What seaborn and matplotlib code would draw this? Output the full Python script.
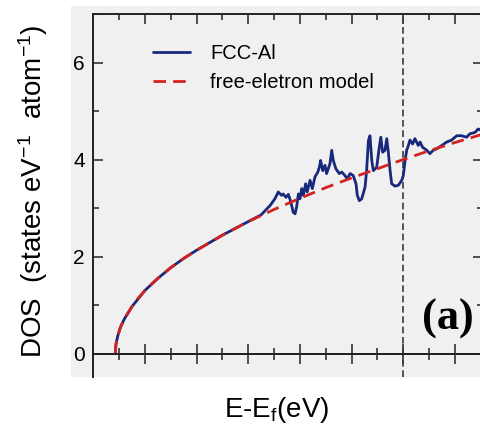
import numpy as np
import pandas as pd
import matplotlib
matplotlib.use("Agg")
import matplotlib.pyplot as plt
from matplotlib.patches import Rectangle
from matplotlib.ticker import MultipleLocator, NullFormatter
import seaborn as sns

# ---------------- data ----------------
# FCC-Al DOS (states eV^-1 atom^-1) vs E - Ef (eV)
al_energy = [-11.15, -11.12, -11.05, -10.95, -10.8, -10.5, -10.0, -9.5, -9.0, -8.5,
             -8.0, -7.0, -6.0, -5.5, -5.16, -4.97, -4.84, -4.71, -4.65, -4.54,
             -4.45, -4.39, -4.32, -4.26, -4.19, -4.13, -4.06, -4.00, -3.93, -3.87,
             -3.78, -3.72, -3.61, -3.52, -3.42, -3.31, -3.25, -3.20, -3.12, -3.03,
             -2.97, -2.84, -2.77, -2.71, -2.61, -2.48, -2.38, -2.26, -2.17, -2.06,
             -1.94, -1.83, -1.78, -1.70, -1.61, -1.48, -1.42, -1.35, -1.29, -1.22,
             -1.16, -1.03, -0.93, -0.87, -0.80, -0.71, -0.64, -0.58, -0.51, -0.45,
             -0.32, -0.19, -0.06, 0.00, 0.07, 0.13, 0.19, 0.26, 0.36, 0.45,
             0.58, 0.65, 0.75, 0.91, 1.03, 1.16, 1.29, 1.49, 1.68, 1.87,
             2.07, 2.26, 2.45, 2.58, 2.78, 2.90, 3.01, 3.10]
al_dos = [0.00, 0.20, 0.37, 0.54, 0.71, 0.97, 1.30, 1.55, 1.77, 1.96,
          2.13, 2.44, 2.72, 2.86, 3.05, 3.19, 3.33, 3.26, 3.29, 3.22,
          3.28, 3.19, 3.05, 2.91, 2.88, 3.02, 3.29, 3.19, 3.40, 3.26,
          3.50, 3.33, 3.57, 3.40, 3.64, 3.74, 3.84, 3.98, 3.77, 3.88,
          3.71, 3.91, 4.19, 3.98, 3.81, 3.71, 3.74, 3.67, 3.60, 3.71,
          3.67, 3.50, 3.26, 3.15, 3.19, 3.43, 3.77, 4.39, 4.49, 3.98,
          3.77, 3.84, 4.25, 4.46, 4.15, 4.19, 4.43, 4.15, 3.77, 3.50,
          3.45, 3.47, 3.57, 3.67, 3.98, 4.19, 4.28, 4.40, 4.32, 4.43,
          4.29, 4.36, 4.25, 4.19, 4.12, 4.19, 4.22, 4.29, 4.36, 4.40,
          4.49, 4.49, 4.46, 4.53, 4.56, 4.63, 4.60, 4.62]

# free-electron model
fe_energy = [-11.15, -11.12, -11.05, -10.95, -10.8, -10.5, -10.25, -10.0, -9.75, -9.5,
             -9.0, -8.5, -8.0, -7.0, -6.0, -5.0, -4.0, -3.0, -2.0, -1.0,
             0.0, 1.0, 2.0, 3.0, 3.1]
fe_dos = [0.00, 0.20, 0.37, 0.54, 0.71, 0.97, 1.15, 1.30, 1.43, 1.55,
          1.77, 1.96, 2.13, 2.44, 2.72, 2.97, 3.20, 3.42, 3.62, 3.81,
          4.00, 4.18, 4.35, 4.51, 4.53]

fermi_level = 0.0
y_ticks = [0, 2, 4, 6]

al_df = pd.DataFrame({"E": al_energy, "DOS": al_dos})
fe_df = pd.DataFrame({"E": fe_energy, "DOS": fe_dos})

# ---------------- style ----------------
sns.set_style("ticks")
plt.rcParams["font.family"] = ["Liberation Sans", "DejaVu Sans"]
plt.rcParams["mathtext.fontset"] = "custom"
plt.rcParams["mathtext.rm"] = "Liberation Sans"
plt.rcParams["mathtext.it"] = "Liberation Sans:italic"
plt.rcParams["mathtext.bf"] = "Liberation Sans:bold"
for k in ("text.color", "axes.labelcolor", "xtick.color", "ytick.color"):
    plt.rcParams[k] = "black"

W, H = 481, 425
fig = plt.figure(figsize=(W / 100, H / 100), dpi=100)
fig.patch.set_facecolor("white")

# gray background panel
fig.add_artist(Rectangle((71 / W, 1 - 377 / H), 1 - 71 / W + 0.01, (377 - 6) / H,
                         transform=fig.transFigure, facecolor="#f0f0f0",
                         edgecolor="none", zorder=-5))

ax_left = 93.3 / W
ax_right = 483 / W
ax_top = 1 - 14 / H
ax_bot = 1 - 353.5 / H
ax = fig.add_axes([ax_left, ax_bot, ax_right - ax_left, ax_top - ax_bot])
ax.patch.set_alpha(0)

blue = "#18287a"
red = "#d42222"

sns.lineplot(data=al_df, x="E", y="DOS", ax=ax, color=blue, lw=2.0,
             label="FCC-Al", estimator=None, sort=False, zorder=3)
sns.lineplot(data=fe_df, x="E", y="DOS", ax=ax, color=red, lw=2.0,
             linestyle=(0, (4.5, 2.6)), label="free-eletron model",
             estimator=None, sort=False, zorder=4)
ax.axvline(fermi_level, color="#3a3a3a", lw=1.2, linestyle=(0, (4, 2.2)), zorder=2)

ax.set_xlim(-12, (483 - 403.3) / 25.83)
ax.set_ylim(0, 7)
ax.set_xlabel("")
ax.set_ylabel("")
ax.set_yticks(y_ticks)
ax.yaxis.set_minor_locator(MultipleLocator(1))
ax.xaxis.set_major_locator(MultipleLocator(2))
ax.xaxis.set_minor_locator(MultipleLocator(1))
ax.xaxis.set_major_formatter(NullFormatter())
ax.tick_params(axis="both", which="both", direction="in", top=True, right=True,
               color="#222222")
ax.tick_params(axis="both", which="major", length=7, width=1.1)
ax.tick_params(axis="both", which="minor", length=4, width=1.1)
ax.tick_params(axis="y", labelsize=15, pad=6)
for s in ax.spines.values():
    s.set_linewidth(1.4)
    s.set_color("#222222")

leg = ax.legend(loc="upper left", bbox_to_anchor=(0.153, 0.912), frameon=False,
                fontsize=14.5, handlelength=1.85, handletextpad=1.0,
                borderpad=0, borderaxespad=0, labelspacing=0.5)

ax.text(1.73, 0.50, "(a)", fontsize=32, fontweight="bold",
        family="Liberation Serif", ha="center", va="baseline", zorder=5)

# lower (cropped) panel strip
low_bot = 1 - 377 / H
ax2 = fig.add_axes([ax_left, low_bot, ax_right - ax_left, ax_bot - low_bot])
ax2.patch.set_alpha(0)
ax2.set_xlim(ax.get_xlim())
ax2.set_ylim(0, 1)
ax2.axvline(fermi_level, color="#3a3a3a", lw=1.2, linestyle=(0, (4, 2.2)))
ax2.xaxis.set_major_locator(MultipleLocator(2))
ax2.xaxis.set_minor_locator(MultipleLocator(1))
ax2.set_yticks([])
ax2.tick_params(axis="x", which="both", direction="in", top=True, bottom=False,
                labelbottom=False, labeltop=False, color="#222222")
ax2.tick_params(axis="x", which="major", length=7, width=1.1)
ax2.tick_params(axis="x", which="minor", length=4, width=1.1)
for name, s in ax2.spines.items():
    s.set_linewidth(1.4)
    s.set_color("#222222")
    if name in ("bottom", "right"):
        s.set_visible(False)

# axis labels
fig.text(277 / W, 1 - 417 / H, r"E-E$_\mathregular{f}$(eV)", fontsize=20,
         ha="center", va="baseline")
fig.text(33 / W, 1 - 191.5 / H,
         r"DOS  (states eV$^\mathregular{-1}$  atom$^\mathregular{-1}$)",
         fontsize=20, rotation=90, ha="center", va="center")

fig.savefig("out.png", dpi=100, facecolor="white")
